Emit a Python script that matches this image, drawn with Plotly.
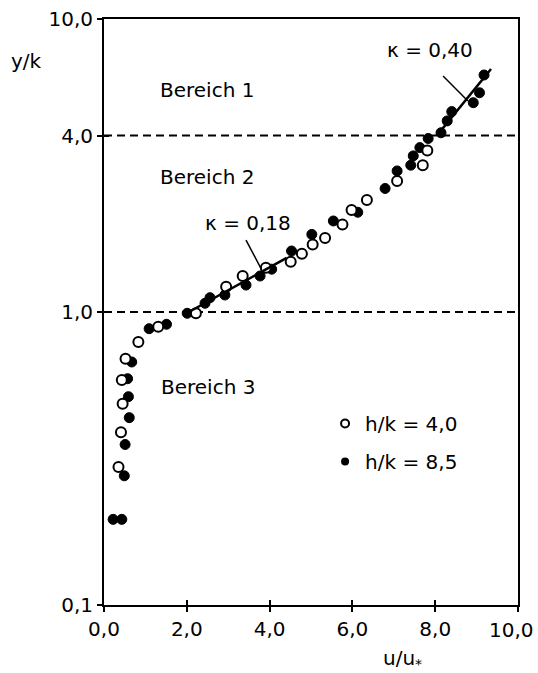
import numpy as np
import plotly.graph_objects as go

# velocity profiles u/u* over relative height y/k
u_h40 = [0.35, 0.41, 0.45, 0.43, 0.52, 0.83, 1.31, 2.22, 2.95, 3.35, 3.91,
         4.51, 4.78, 5.04, 5.34, 5.76, 5.98, 6.35, 7.08, 7.70, 7.81]
y_h40 = [0.296, 0.389, 0.486, 0.586, 0.693, 0.79, 0.891, 0.99, 1.22, 1.327, 1.416,
         1.485, 1.58, 1.70, 1.79, 1.99, 2.23, 2.41, 2.80, 3.17, 3.56]

u_h85 = [0.22, 0.43, 0.49, 0.51, 0.61, 0.59, 0.57, 0.67, 1.09, 1.51, 2.01,
         2.44, 2.56, 2.92, 3.43, 3.77, 4.05, 4.53, 5.02, 5.54, 6.13, 6.79,
         7.08, 7.41, 7.47, 7.63, 7.83, 8.14, 8.29, 8.40, 8.92, 9.07, 9.18]
y_h85 = [0.196, 0.196, 0.276, 0.353, 0.436, 0.514, 0.592, 0.675, 0.877, 0.908, 0.99,
         1.071, 1.119, 1.143, 1.236, 1.327, 1.40, 1.615, 1.84, 2.045, 2.19, 2.64,
         3.03, 3.17, 3.41, 3.64, 3.91, 4.09, 4.49, 4.83, 5.18, 5.6, 6.44]

# logarithmic law segments: kappa, start (u, y), end height
kappa = [0.18, 0.40]
law_u0 = [2.05, 8.04]
law_y0 = [1.0, 4.0]
law_y1 = [1.53, 6.75]

# region boundaries
bounds = [1.0, 4.0]

y_ticks = [0.1, 1.0, 4.0, 10.0]
x_ticks = [0, 2, 4, 6, 8, 10]
x_labels = ["0,0", "2,0", "4,0", "6,0", "8,0", "10,0"]

FONT = "DejaVu Sans"
BLACK = "#000000"

fig = go.Figure()

for yb in bounds:
    fig.add_trace(go.Scatter(x=[0, 10], y=[yb, yb], mode="lines",
                             line=dict(color=BLACK, width=2, dash="8px,5px"),
                             showlegend=False, hoverinfo="skip"))

fig.add_trace(go.Scatter(x=u_h85, y=y_h85, mode="markers",
                         marker=dict(symbol="circle", size=10, color=BLACK,
                                     line=dict(color=BLACK, width=1)),
                         showlegend=False))
fig.add_trace(go.Scatter(x=u_h40, y=y_h40, mode="markers",
                         marker=dict(symbol="circle", size=10, color="white",
                                     line=dict(color=BLACK, width=2)),
                         showlegend=False))

# law lines and their label leaders
for k, u0, y0, y1 in zip(kappa, law_u0, law_y0, law_y1):
    yy = np.geomspace(y0, y1, 20)
    uu = u0 + np.log(yy / y0) / k
    fig.add_trace(go.Scatter(x=uu, y=yy, mode="lines",
                             line=dict(color=BLACK, width=2.5),
                             showlegend=False, hoverinfo="skip"))

leader_u = [[3.43, 3.79], [8.19, 8.79]]
leader_y = [[1.76, 1.41], [6.39, 5.25]]
for lu, ly in zip(leader_u, leader_y):
    fig.add_trace(go.Scatter(x=lu, y=ly, mode="lines",
                             line=dict(color=BLACK, width=1.5),
                             showlegend=False, hoverinfo="skip"))

# legend entries
fig.add_trace(go.Scatter(x=[None], y=[None], mode="markers", name="h/k = 4,0",
                         legendgroup="a",
                         marker=dict(symbol="circle", size=8, color="white",
                                     line=dict(color=BLACK, width=2))))
fig.add_trace(go.Scatter(x=[None], y=[None], mode="markers", name="h/k = 8,5",
                         legendgroup="b",
                         marker=dict(symbol="circle", size=8, color=BLACK)))

# overlay axes carrying the inner half of the crossing ticks
fig.add_trace(go.Scatter(x=[None], y=[None], xaxis="x2", yaxis="y2",
                         showlegend=False, hoverinfo="skip"))

annots = [
    ("Bereich 1", 1.30, 5.72),
    ("Bereich 2", 1.30, 2.89),
    ("Bereich 3", 1.33, 0.555),
    ("\u03ba = 0,40", 6.79, 7.84),
    ("\u03ba = 0,18", 2.39, 2.01),
]
annotations = [dict(text=t, x=x, y=np.log10(y), xref="x", yref="y",
                    xanchor="left", yanchor="middle", showarrow=False,
                    font=dict(family=FONT, size=20, color=BLACK))
               for t, x, y in annots]
annotations += [
    dict(text="y/k", x=-0.186, y=0.928, xref="paper", yref="paper",
         xanchor="center", yanchor="middle", showarrow=False,
         font=dict(family=FONT, size=20, color=BLACK)),
    dict(text="u/u<sub>*</sub>", x=0.72, y=-0.093, xref="paper", yref="paper",
         xanchor="center", yanchor="middle", showarrow=False,
         font=dict(family=FONT, size=20, color=BLACK)),
    # last x tick label, right-aligned so it stays on the page
    dict(text=x_labels[-1], x=x_ticks[-1], y=-0.0427, xref="x", yref="paper",
         xanchor="right", yanchor="middle", xshift=18, showarrow=False,
         font=dict(family=FONT, size=20, color=BLACK)),
]

axis_common = dict(showgrid=False, zeroline=False, linecolor=BLACK,
                   tickcolor=BLACK, tickwidth=2, ticklen=5, automargin=False)

fig.update_layout(
    width=538, height=673,
    margin=dict(l=104, r=20, t=19, b=68, autoexpand=False),
    paper_bgcolor="white", plot_bgcolor="white",
    font=dict(family=FONT, size=20, color=BLACK),
    xaxis=dict(range=[0, 10], tickvals=x_ticks,
               ticktext=x_labels[:-1] + [""],
               ticks="outside", showline=True, linewidth=2, mirror=True,
               **axis_common),
    yaxis=dict(type="log", range=[-1, 1], tickvals=y_ticks,
               ticktext=[f"{v:.1f}".replace(".", ",") for v in y_ticks],
               ticks="outside", showline=True, linewidth=2, mirror=True,
               ticklabeloverflow="allow", **axis_common),
    xaxis2=dict(range=[0, 10], tickvals=x_ticks, ticks="inside",
                showticklabels=False, showline=False, overlaying="x",
                anchor="y2", **axis_common),
    yaxis2=dict(type="log", range=[-1, 1], tickvals=y_ticks, ticks="inside",
                showticklabels=False, showline=False, overlaying="y",
                anchor="x2", **axis_common),
    legend=dict(x=0.534, y=0.343, xanchor="left", yanchor="top",
                bgcolor="rgba(0,0,0,0)", tracegroupgap=9,
                font=dict(family=FONT, size=20, color=BLACK)),
    annotations=annotations,
)

fig.write_html("out.html")
